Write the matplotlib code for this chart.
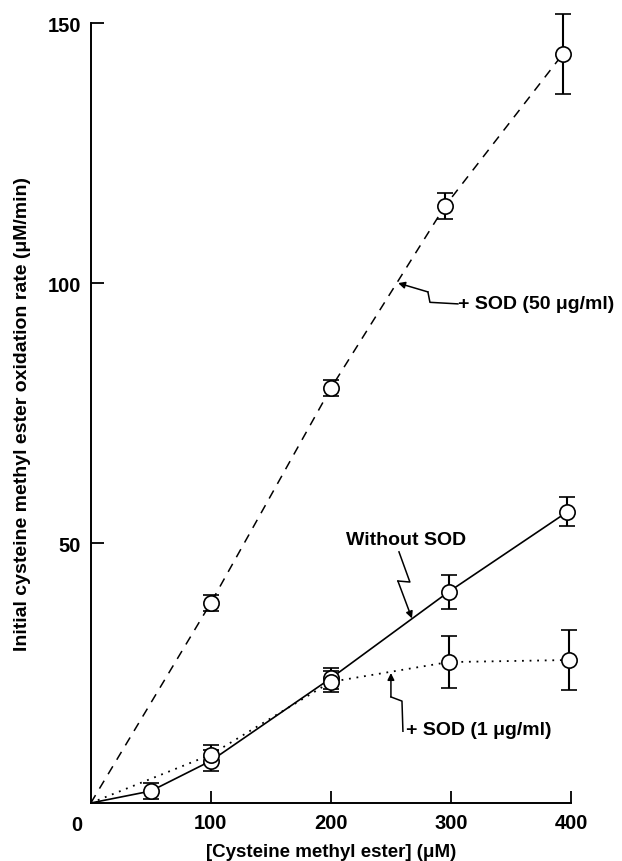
import numpy as np
import matplotlib.pyplot as plt

plt.rcParams['font.family'] = ['Liberation Sans', 'DejaVu Sans']

# [Cysteine methyl ester] (uM) and rates (uM/min)
x_sod50 = [0, 100, 200, 295, 393]
y_sod50 = [0, 38.5, 79.8, 114.8, 144.0]
e_sod50 = [0, 1.5, 1.5, 2.5, 7.7]

x_none = [0, 50, 100, 200, 298, 397]
y_none = [0, 2.3, 8.1, 24.0, 40.6, 56.0]
e_none = [0, 1.6, 2.0, 2.0, 3.2, 2.8]

x_sod1 = [0, 100, 200, 298, 398]
y_sod1 = [0, 9.3, 23.3, 27.1, 27.5]
e_sod1 = [0, 1.8, 2.0, 5.0, 5.7]

fig = plt.figure(figsize=(6.22, 8.62), dpi=100)
ax = fig.add_axes([0.146, 0.0673, 0.772, 0.9047])

kw = dict(fmt='o', ms=11, mfc='white', mec='black', mew=1.2, ecolor='black',
          elinewidth=1.5, capsize=6, capthick=2, clip_on=False, zorder=3)

ax.plot(x_sod50, y_sod50, color='black', lw=1.1, ls=(0, (6, 5)), zorder=2)
ax.plot(x_none, y_none, color='black', lw=1.2, ls='-', zorder=2)
ax.plot(x_sod1, y_sod1, color='black', lw=1.3, ls=(0, (1, 3.2)), zorder=2)

ax.errorbar(x_sod50[1:], y_sod50[1:], yerr=e_sod50[1:], **kw)
ax.errorbar(x_none[1:], y_none[1:], yerr=e_none[1:], **kw)
ax.errorbar(x_sod1[1:], y_sod1[1:], yerr=e_sod1[1:], **kw)

ax.set_xlim(0, 400)
ax.set_ylim(0, 150)
ax.set_xticks([100, 200, 300, 400])
ax.set_yticks([50, 100, 150])
for s in ['top', 'right']:
    ax.spines[s].set_visible(False)
for s in ['left', 'bottom']:
    ax.spines[s].set_linewidth(1.4)
ax.tick_params(direction='in', length=9, width=1.3, labelsize=14.5, pad=7)
for lab in ax.get_xticklabels() + ax.get_yticklabels():
    lab.set_fontweight('bold')
ax.annotate('0', (0, 0), xytext=(-10, -9), textcoords='offset points',
            ha='center', va='top', fontsize=14.5, fontweight='bold')

ax.set_xlabel('[Cysteine methyl ester] (μM)', fontsize=13.5, fontweight='bold', labelpad=8)
ax.set_ylabel('Initial cysteine methyl ester oxidation rate (μM/min)', fontsize=14,
              fontweight='bold', labelpad=12)


def zig(pts, label, tpos, ha):
    xs = [p[0] for p in pts]
    ys = [p[1] for p in pts]
    ax.plot(xs[:-1], ys[:-1], color='black', lw=1.1, zorder=4)
    ax.annotate('', xy=pts[-1], xytext=pts[-2],
                arrowprops=dict(arrowstyle='-|>', color='black', lw=1.1,
                                mutation_scale=10, shrinkA=0, shrinkB=0))
    ax.text(tpos[0], tpos[1], label, ha=ha, va='center', fontsize=14,
            fontweight='bold')


zig([(305.8, 96.0), (282.5, 96.3), (280.8, 98.3), (256, 100.0)],
    '+ SOD (50 μg/ml)', (306, 96.0), 'left')
zig([(256.7, 48.3), (265.8, 42.5), (255.8, 42.7), (267.5, 35.5)],
    'Without SOD', (262.5, 50.6), 'center')
zig([(260, 13.8), (259.2, 19.6), (250, 20.4), (250, 25.0)],
    '+ SOD (1 μg/ml)', (262.5, 14.2), 'left')

fig.savefig('out.png', dpi=100)
